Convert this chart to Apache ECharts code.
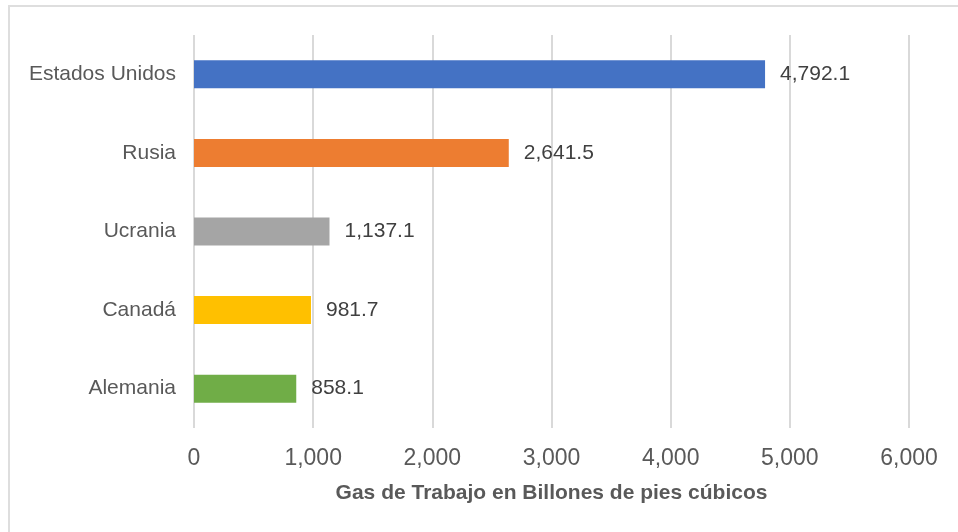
<!DOCTYPE html>
<html>
<head>
<meta charset="utf-8">
<script src="https://cdn.jsdelivr.net/npm/echarts@6/dist/echarts.min.js"></script>
<style>
  html, body { margin: 0; padding: 0; background: #fff; }
  #wrap { position: relative; width: 958px; height: 532px; overflow: hidden; }
  #frame { position: absolute; left: 8px; top: 5px; width: 1000px; height: 600px;
           border-top: 2px solid #dedede; border-left: 2px solid #dedede; }
  #chart { position: absolute; left: 0; top: 0; width: 958px; height: 532px; }
</style>
</head>
<body>
<div id="wrap">
  <div id="frame"></div>
  <div id="chart"></div>
</div>
<script>
// datos: gas de trabajo por país
var paises = ['Alemania', 'Canadá', 'Ucrania', 'Rusia', 'Estados Unidos'];
var valores = [858.1, 981.7, 1137.1, 2641.5, 4792.1];
var colores = ['#70AD47', '#FFC000', '#A5A5A5', '#ED7D31', '#4472C4'];
var tituloEje = 'Gas de Trabajo en Billones de pies cúbicos';

var echar = echarts.init(document.getElementById('chart'));
var option = {
  animation: false,
  grid: {
    left: 194,
    right: 49,
    top: 35,
    bottom: 104
  },
  xAxis: {
    type: 'value',
    min: 0,
    max: 6000,
    interval: 1000,
    name: tituloEje,
    nameLocation: 'middle',
    nameGap: 55,
    nameTextStyle: {
      fontFamily: 'Liberation Sans',
      fontSize: 21,
      fontWeight: 'bold',
      color: '#595959'
    },
    axisLine: { show: false },
    axisTick: { show: false },
    axisLabel: {
      margin: 19,
      fontFamily: 'Liberation Sans',
      fontSize: 23,
      color: '#595959',
      formatter: function (v) {
        return v.toLocaleString('en-US');
      }
    },
    splitLine: {
      lineStyle: { color: '#d9d9d9', width: 2 }
    }
  },
  yAxis: {
    type: 'category',
    data: paises,
    axisLine: { show: false },
    axisTick: { show: false },
    axisLabel: {
      margin: 18,
      fontFamily: 'Liberation Sans',
      fontSize: 21,
      color: '#595959'
    }
  },
  series: [
    {
      type: 'bar',
      barWidth: 28,
      data: valores.map(function (v, i) {
        return { value: v, itemStyle: { color: colores[i] } };
      }),
      label: {
        show: true,
        position: 'right',
        distance: 15,
        fontFamily: 'Liberation Sans',
        fontSize: 21,
        color: '#404040',
        formatter: function (p) {
          return p.value.toLocaleString('en-US', { minimumFractionDigits: 1, maximumFractionDigits: 1 });
        }
      }
    }
  ]
};
echar.setOption(option);
</script>
</body>
</html>
